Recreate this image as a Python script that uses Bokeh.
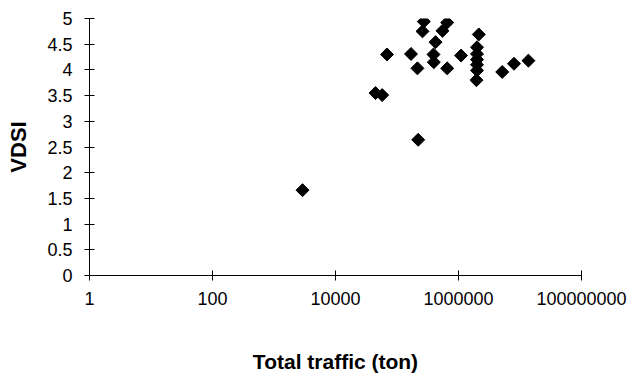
import math
from bokeh.plotting import figure
from bokeh.models import FixedTicker, CustomJSTickFormatter
from bokeh.embed import file_html
from bokeh.resources import INLINE

# Data (Total traffic in tons, VDSI)
traffic = [2.73e5, 2.60e5, 6.55e5, 5.49e5, 4.23e5, 6.88e4, 1.69e5, 3.92e5,
           3.97e5, 2.15e5, 6.55e5, 1.10e6, 2.14e6, 2.00e6, 2.00e6, 2.00e6,
           2.00e6, 2.00e6, 1.96e6, 5.14e6, 7.99e6, 1.37e7, 4.47e4, 5.74e4,
           2.21e5, 2.91e3]
vdsi = [4.94, 4.75, 4.92, 4.76, 4.54, 4.30, 4.31, 4.30,
        4.15, 4.03, 4.03, 4.28, 4.69, 4.44, 4.31, 4.20,
        4.10, 3.99, 3.80, 3.96, 4.12, 4.18, 3.55, 3.51,
        2.64, 1.66]

x_ticks = [1, 100, 10000, 1000000, 100000000]
y_ticks = [0, 0.5, 1, 1.5, 2, 2.5, 3, 3.5, 4, 4.5, 5]

FONT = "Liberation Sans"

p = figure(width=634, height=389, x_axis_type="log",
           x_range=(1, 1e8), y_range=(0, 5),
           output_backend="svg", toolbar_location=None,
           min_border_left=89, min_border_right=53,
           min_border_top=18, min_border_bottom=114)

p.grid.visible = False
p.outline_line_color = None
p.background_fill_color = "white"
p.border_fill_color = "white"

p.scatter(traffic, vdsi, marker="square", angle=math.pi / 4, size=9.2,
          fill_color="black", line_color="black")

fmt = CustomJSTickFormatter(code="return tick.toString();")

xa = p.xaxis[0]
xa.ticker = FixedTicker(ticks=x_ticks, minor_ticks=[])
xa.formatter = fmt
xa.axis_label = "Total traffic (ton)"

ya = p.yaxis[0]
ya.ticker = FixedTicker(ticks=y_ticks, minor_ticks=[])
ya.formatter = fmt
ya.axis_label = "VDSI"

for ax in (xa, ya):
    ax.axis_line_color = "black"
    ax.axis_line_width = 1
    ax.major_tick_line_color = "black"
    ax.major_tick_in = 5
    ax.major_tick_out = 5
    ax.minor_tick_line_color = None
    ax.major_label_text_font = FONT
    ax.major_label_text_font_size = "18px"
    ax.major_label_text_color = "black"
    ax.axis_label_text_font = FONT
    ax.axis_label_text_font_style = "bold"
    ax.axis_label_text_color = "black"

xa.major_label_standoff = 11
xa.axis_label_text_font_size = "21px"
xa.axis_label_standoff = 42
ya.major_label_standoff = 12
ya.major_label_orientation = "horizontal"
ya.axis_label_text_font_size = "22px"
ya.axis_label_standoff = 13

open("out.html", "w").write(file_html(p, INLINE))
